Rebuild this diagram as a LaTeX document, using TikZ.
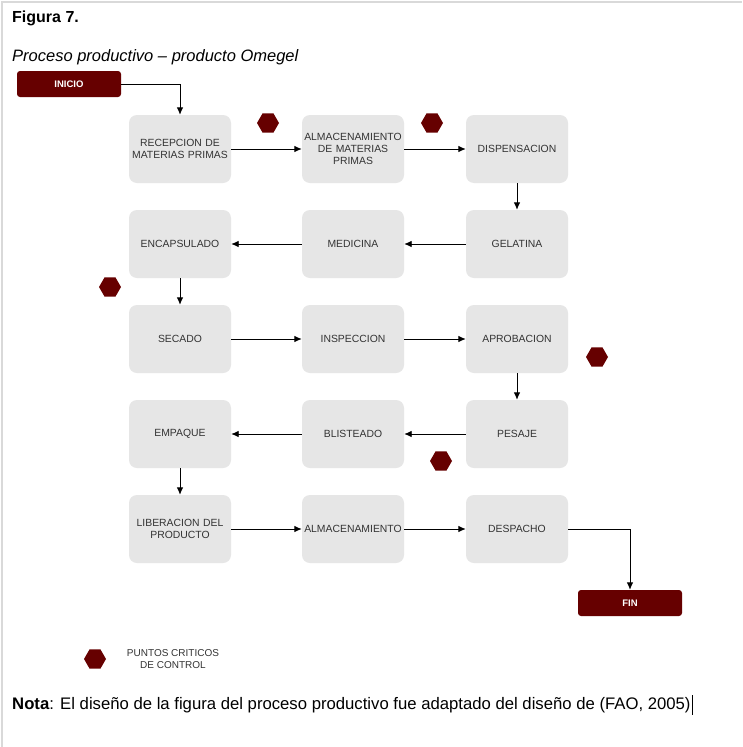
\documentclass[tikz,border=0pt]{standalone}
\usepackage{fontspec}
\setmainfont{Liberation Sans}
\usetikzlibrary{arrows.meta,shapes.geometric}
\definecolor{crit}{RGB}{102,0,0}
\definecolor{boxgray}{RGB}{230,230,230}
\definecolor{boxtext}{RGB}{51,51,51}
\tikzset{
  stepbox/.style={rectangle, rounded corners=8pt, fill=boxgray, draw=none,
    minimum width=102pt, minimum height=68pt, text width=102pt, align=center,
    inner sep=0pt, text=boxtext, font=\fontsize{10.4}{12}\selectfont},
  term/.style={rectangle, rounded corners=3pt, fill=crit, draw=none,
    minimum width=104pt, minimum height=26pt, inner sep=0pt, text=white,
    font=\bfseries\fontsize{9.5}{11}\selectfont},
  hexa/.style={regular polygon, regular polygon sides=6,
    minimum size=22pt, inner sep=0pt, fill=crit, draw=none},
  arr/.style={draw=black, line width=0.9pt, -{Latex[length=7.5pt,width=6.5pt]}},
}
\begin{document}
\begin{tikzpicture}[x=1pt,y=-1pt]
\useasboundingbox (0,0) rectangle (742,747);
\fill[white] (0,0) rectangle (742,747);
\draw[black!15, line width=1.2pt] (2,747) -- (2,2) -- (742,2);

\node[anchor=west, inner sep=0pt, font=\bfseries\fontsize{16}{19}\selectfont] (title) at (12,18) {Figura 7.};
\node[anchor=west, inner sep=0pt, font=\itshape\fontsize{16.5}{19}\selectfont] (sub) at (12,57) {Proceso productivo – producto Omegel};

\node[term] (inicio) at (69,84) {INICIO};
\node[term] (fin) at (630,603) {FIN};

\node[stepbox] (rec) at (180,149) {RECEPCION DE\\MATERIAS PRIMAS};
\node[stepbox] (alm1) at (353,149) {ALMACENAMIENTO\\DE MATERIAS\\PRIMAS};
\node[stepbox] (disp) at (517,149) {DISPENSACION};

\node[stepbox] (enc) at (180,244) {ENCAPSULADO};
\node[stepbox] (med) at (353,244) {MEDICINA};
\node[stepbox] (gel) at (517,244) {GELATINA};

\node[stepbox] (sec) at (180,339) {SECADO};
\node[stepbox] (insp) at (353,339) {INSPECCION};
\node[stepbox] (aprob) at (517,339) {APROBACION};

\node[stepbox] (emp) at (180,434) {EMPAQUE};
\node[stepbox] (blis) at (353,434) {BLISTEADO};
\node[stepbox] (pes) at (517,434) {PESAJE};

\node[stepbox] (lib) at (180,529) {LIBERACION DEL\\PRODUCTO};
\node[stepbox] (alm2) at (353,529) {ALMACENAMIENTO};
\node[stepbox] (desp) at (517,529) {DESPACHO};

\node[hexa] (h1) at (268,123) {};
\node[hexa] (h2) at (432,123) {};
\node[hexa] (h3) at (110,287) {};
\node[hexa] (h4) at (597,357) {};
\node[hexa] (h5) at (441,461) {};
\node[hexa] (hl) at (95,659) {};
\node[align=center, text=boxtext, font=\fontsize{10}{12.5}\selectfont] (legend) at (173,659) {PUNTOS CRITICOS\\DE CONTROL};

\draw[arr] (inicio.east) -| (rec.north);
\draw[arr] (rec) -- (alm1);
\draw[arr] (alm1) -- (disp);
\draw[arr] (disp) -- (gel);
\draw[arr] (gel) -- (med);
\draw[arr] (med) -- (enc);
\draw[arr] (enc) -- (sec);
\draw[arr] (sec) -- (insp);
\draw[arr] (insp) -- (aprob);
\draw[arr] (aprob) -- (pes);
\draw[arr] (pes) -- (blis);
\draw[arr] (blis) -- (emp);
\draw[arr] (emp) -- (lib);
\draw[arr] (lib) -- (alm2);
\draw[arr] (alm2) -- (desp);
\draw[arr] (desp.east) -| (fin.north);

\node[anchor=west, font=\fontsize{16.7}{19}\selectfont, inner sep=0pt] (nota) at (12,705) {\textbf{Nota}: El diseño de la figura del proceso productivo fue adaptado del diseño de (FAO, 2005)};
\draw[black, line width=0.8pt] ([xshift=1.5pt]nota.east) ++(0,-10) -- ++(0,20);
\end{tikzpicture}
\end{document}
